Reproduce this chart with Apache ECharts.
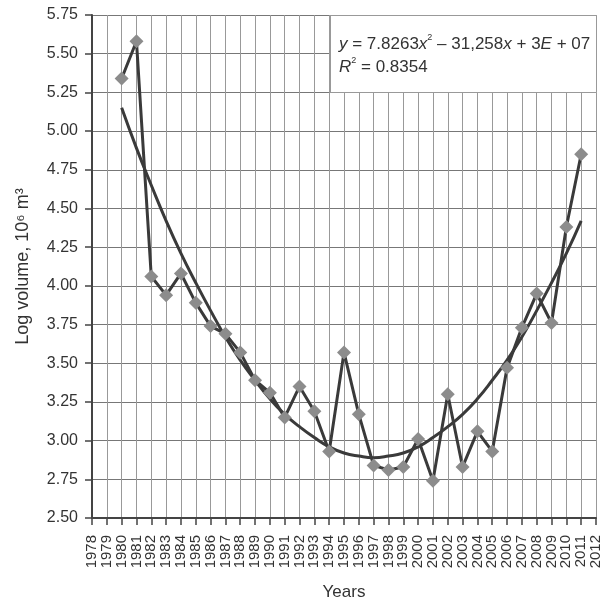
<!DOCTYPE html>
<html>
<head>
<meta charset="utf-8">
<script src="https://cdn.jsdelivr.net/npm/echarts@6/dist/echarts.min.js"></script>
<style>html,body{margin:0;padding:0;background:#fff}#c{width:612px;height:603px}</style>
</head>
<body>
<div id="c"></div>
<script>
var years = [1980,1981,1982,1983,1984,1985,1986,1987,1988,1989,1990,1991,1992,1993,1994,1995,1996,1997,1998,1999,2000,2001,2002,2003,2004,2005,2006,2007,2008,2009,2010,2011];
var logVolume = [5.34,5.58,4.06,3.94,4.08,3.89,3.74,3.69,3.57,3.39,3.31,3.15,3.35,3.19,2.93,3.57,3.17,2.84,2.81,2.83,3.01,2.74,3.30,2.83,3.06,2.93,3.47,3.73,3.95,3.76,4.38,4.85];
var trendValues = [5.15,4.89,4.65,4.42,4.21,4.02,3.84,3.67,3.52,3.39,3.27,3.17,3.09,3.02,2.96,2.92,2.90,2.89,2.90,2.92,2.96,3.02,3.09,3.17,3.27,3.39,3.52,3.67,3.84,4.02,4.21,4.42];
var xMin = 1978, xMax = 2012;
var yMin = 2.5, yMax = 5.75, yStep = 0.25;

var font = '"Liberation Sans", Arial, sans-serif';
var chart = echarts.init(document.getElementById('c'), null, {renderer:'canvas'});
var dataPts = years.map(function(y,i){return [y, logVolume[i]];});
var trendPts = years.map(function(y,i){return [y, trendValues[i]];});

chart.setOption({
  backgroundColor:'#fff',
  animation:false,
  grid:{left:92, right:16, top:15, bottom:85, containLabel:false, outerBoundsMode:'none'},
  xAxis:{
    type:'value', min:xMin, max:xMax, interval:1,
    name:'Years', nameLocation:'middle', nameGap:66,
    nameTextStyle:{fontFamily:font, fontSize:17, color:'#333'},
    axisLine:{lineStyle:{color:'#444', width:2}},
    axisTick:{show:true, length:7, lineStyle:{color:'#444', width:1.5}},
    axisLabel:{rotate:90, fontFamily:font, fontSize:15, color:'#333', margin:17, formatter:function(v){return String(v);}},
    splitLine:{show:true, lineStyle:{color:'#999', width:1}}
  },
  yAxis:{
    type:'value', min:yMin, max:yMax, interval:yStep,
    name:'Log volume, 10\u2076 m\u00b3', nameLocation:'middle', nameGap:60,
    nameTextStyle:{fontFamily:font, fontSize:18, color:'#333'},
    axisLine:{show:true, lineStyle:{color:'#444', width:2}},
    axisTick:{show:true, length:7, lineStyle:{color:'#444', width:1.5}},
    axisLabel:{fontFamily:font, fontSize:16, color:'#333', margin:14, formatter:function(v){return v.toFixed(2);}},
    splitLine:{show:true, lineStyle:{color:'#777', width:1}}
  },
  series:[
    {type:'line', data:trendPts, smooth:true, symbol:'none', z:2,
     lineStyle:{color:'#3a3a3a', width:3}},
    {type:'line', data:dataPts, symbol:'diamond', symbolSize:14, z:3,
     lineStyle:{color:'#3a3a3a', width:3},
     itemStyle:{color:'#8c8c8c', borderWidth:0}}
  ],
  graphic:[
    {type:'rect', left:330, top:15, shape:{width:266, height:77},
     style:{fill:'#fff', stroke:'#999', lineWidth:1}, z:10},
    {type:'text', left:339, top:33, z:11,
     style:{
       rich:{
         i:{fontFamily:font, fontSize:17, fontStyle:'italic', fill:'#333', lineHeight:23},
         n:{fontFamily:font, fontSize:17, fill:'#333', lineHeight:23},
         s:{fontFamily:font, fontSize:9, fill:'#333', verticalAlign:'top', padding:[0,0,8,0], lineHeight:23}
       },
       text:'{i|y}{n| = 7.8263}{i|x}{s|2}{n| \u2013 31,258}{i|x}{n| + 3}{i|E}{n| + 07}\n{i|R}{s|2}{n| = 0.8354}'
     }}
  ]
});
</script>
</body>
</html>
